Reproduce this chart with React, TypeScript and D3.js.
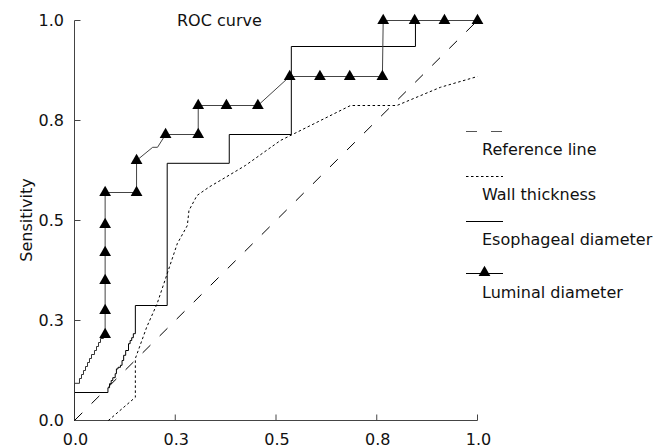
import React from "react";
import * as d3 from "d3";

// ---- data (false-positive rate, sensitivity) ----
const tickValues = [0, 0.25, 0.5, 0.75, 1];
const tickLabels = ["0.0", "0.3", "0.5", "0.8", "1.0"];

const referenceLine: [number, number][] = [[0, 0], [1, 1]];

const wallThickness: [number, number][] = [
  [0.084, 0], [0.151, 0.058], [0.151, 0.155], [0.179, 0.233], [0.205, 0.292],
  [0.23, 0.367], [0.255, 0.442], [0.28, 0.4875], [0.284, 0.525], [0.304, 0.5625],
  [0.333, 0.583], [0.375, 0.608], [0.424, 0.6375], [0.511, 0.7], [0.685, 0.7875],
  [0.8, 0.7875], [0.908, 0.833], [1.0, 0.86],
];

const esophagealDiameter: [number, number][] = [
  [0, 0], [0, 0.07], [0.083, 0.07], [0.087, 0.082], [0.091, 0.092], [0.095, 0.1],
  [0.101, 0.107], [0.104, 0.117], [0.108, 0.129], [0.114, 0.133], [0.118, 0.138],
  [0.122, 0.15], [0.127, 0.163], [0.134, 0.175], [0.138, 0.192], [0.142, 0.2],
  [0.146, 0.207], [0.151, 0.217], [0.151, 0.2875], [0.23, 0.2875], [0.23, 0.643],
  [0.384, 0.643], [0.384, 0.715], [0.538, 0.715], [0.538, 0.935], [0.846, 0.935],
  [0.846, 1.0], [1.0, 1.0],
];

const luminalLow: [number, number][] = [
  [0, 0], [0, 0.093], [0.0124, 0.093], [0.0174, 0.105], [0.0223, 0.115],
  [0.0273, 0.125], [0.0323, 0.135], [0.0372, 0.145], [0.0422, 0.155],
  [0.0496, 0.165], [0.0546, 0.175], [0.0596, 0.185], [0.0645, 0.195], [0.072, 0.205],
];

const luminalDiameter: [number, number][] = [
  [0.072, 0.205], [0.076, 0.215], [0.076, 0.275], [0.076, 0.35], [0.076, 0.42],
  [0.076, 0.49], [0.076, 0.57], [0.154, 0.57], [0.154, 0.65], [0.194, 0.683],
  [0.206, 0.683], [0.226, 0.715], [0.307, 0.715], [0.307, 0.7875], [0.377, 0.7875],
  [0.455, 0.7875], [0.534, 0.86], [0.609, 0.86], [0.683, 0.86], [0.764, 0.86],
  [0.766, 1.0], [0.844, 1.0], [0.918, 1.0], [1.0, 1.0],
];

const luminalMarkers: [number, number][] = [
  [0.076, 0.215], [0.076, 0.275], [0.076, 0.35], [0.076, 0.42], [0.076, 0.49],
  [0.076, 0.57], [0.154, 0.57], [0.154, 0.65], [0.226, 0.715], [0.307, 0.715],
  [0.307, 0.7875], [0.377, 0.7875], [0.455, 0.7875], [0.534, 0.86], [0.609, 0.86],
  [0.683, 0.86], [0.764, 0.86], [0.766, 1.0], [0.844, 1.0], [0.918, 1.0], [1.0, 1.0],
];

const legendNames = ["Reference line", "Wall thickness", "Esophageal diameter", "Luminal diameter"];

const title = "ROC curve";
const yTitle = "Sensitivity";

export default function App() {
  const W = 667, H = 448;
  const x = d3.scaleLinear().domain([0, 1]).range([74.5, 477.5]);
  const y = d3.scaleLinear().domain([0, 1]).range([420.5, 20.5]);
  const font = "'DejaVu Sans', Verdana, sans-serif";
  const axisColor = "#444";

  const lin = d3.line<[number, number]>().x(d => x(d[0])).y(d => y(d[1]));
  const step = d3.line<[number, number]>().x(d => x(d[0])).y(d => y(d[1])).curve(d3.curveStepBefore);
  const tri = d3.symbol().type(d3.symbolTriangle).size(60)() as string;

  const legendX0 = 466, legendX1 = 503, legendTextX = 482;
  const legendLineY = [131.5, 176.5, 221.5, 273.5];
  const legendTextY = [154.5, 199.5, 244.5, 298];

  return (
    <svg width={W} height={H} style={{ position: "absolute", left: 0, top: 0, background: "#fff" }} fontFamily={font}>
      {/* axes */}
      <line x1={x(0)} x2={x(0)} y1={y(0)} y2={y(1)} stroke={axisColor} strokeWidth={1} />
      <line x1={x(0)} x2={x(1)} y1={y(0)} y2={y(0)} stroke={axisColor} strokeWidth={1} />
      {tickValues.map((t, i) => (
        <g key={"yt" + i}>
          <line x1={x(0)} x2={x(0) + 6} y1={y(t)} y2={y(t)} stroke={axisColor} />
          <text x={64} y={y(t)} dy="0.36em" textAnchor="end" fontSize={16} fill="#111">{tickLabels[i]}</text>
        </g>
      ))}
      {tickValues.map((t, i) => (
        <g key={"xt" + i}>
          <line x1={x(t)} x2={x(t)} y1={y(0)} y2={y(0) - 6} stroke={axisColor} />
          <text x={x(t) + 1} y={445} textAnchor="middle" fontSize={16} fill="#111">{tickLabels[i]}</text>
        </g>
      ))}
      <text transform="translate(32,220) rotate(-90)" textAnchor="middle" fontSize={16} fill="#111">{yTitle}</text>
      <text x={177} y={26} fontSize={16} fill="#111">{title}</text>

      {/* series */}
      <path d={lin(referenceLine) || ""} fill="none" stroke="#000" strokeWidth={1} strokeDasharray="11,13" />
      <path d={lin(wallThickness) || ""} fill="none" stroke="#000" strokeWidth={1} strokeDasharray="2.5,2.5" />
      <path d={step(esophagealDiameter) || ""} fill="none" stroke="#000" strokeWidth={1} />
      <path d={step(luminalLow) || ""} fill="none" stroke="#333" strokeWidth={1} />
      <path d={lin(luminalDiameter) || ""} fill="none" stroke="#444" strokeWidth={1} />
      {luminalMarkers.map((d, i) => (
        <path key={"m" + i} d={tri} transform={`translate(${x(d[0])},${y(d[1])})`} fill="#000" />
      ))}

      {/* legend */}
      <line x1={legendX0} x2={legendX1} y1={legendLineY[0]} y2={legendLineY[0]} stroke="#555" strokeDasharray="11,14" />
      <line x1={legendX0} x2={legendX1} y1={legendLineY[1]} y2={legendLineY[1]} stroke="#000" strokeDasharray="2.5,2.5" />
      <line x1={legendX0} x2={legendX1} y1={legendLineY[2]} y2={legendLineY[2]} stroke="#000" />
      <line x1={legendX0} x2={legendX1} y1={legendLineY[3]} y2={legendLineY[3]} stroke="#000" />
      <path d={tri} transform={`translate(${(legendX0 + legendX1) / 2},${legendLineY[3] - 1})`} fill="#000" />
      {legendNames.map((n, i) => (
        <text key={"l" + i} x={legendTextX} y={legendTextY[i]} fontSize={16} fill="#111">{n}</text>
      ))}
    </svg>
  );
}
